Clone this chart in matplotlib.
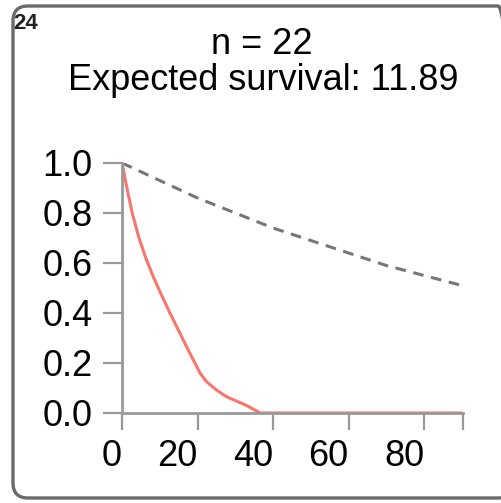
import matplotlib
matplotlib.use("Agg")
import matplotlib.pyplot as plt
from matplotlib.patches import FancyBboxPatch

plt.rcParams['font.family'] = ['Liberation Sans', 'DejaVu Sans']

obs_time = [0, 1.3, 2.7, 4.5, 6.3, 8.3, 10, 12.7, 17.1, 20.7, 22.4, 25, 27.7, 33, 36.6, 60, 90]
obs_surv = [1.0, 0.9, 0.8, 0.7, 0.62, 0.545, 0.487, 0.4, 0.265, 0.159, 0.125, 0.092, 0.065,
            0.03, 0.0, 0.0, 0.0]

# expected survival (dashed reference)
exp_time = [0, 10, 20, 30, 40, 50, 60, 70, 80, 90]
exp_surv = [1.0, 0.93, 0.86, 0.80, 0.74, 0.69, 0.64, 0.59, 0.55, 0.51]

panel_id = "24"
n_patients = 22
expected = 11.89
x_ticks = [0, 20, 40, 60, 80, 90.3]
x_labels = ['0', '20', '40', '60', '80', '']
y_ticks = [0.0, 0.2, 0.4, 0.6, 0.8, 1.0]

fig = plt.figure(figsize=(5.02, 5.03), dpi=100)

# rounded panel border
border = FancyBboxPatch((13/502, 5/503), 500/502, 492/503,
                        boxstyle="round,pad=0,rounding_size=0.03",
                        transform=fig.transFigure, fill=False,
                        edgecolor='#6a6a6a', linewidth=2.4, clip_on=False)
fig.patches.append(border)

fig.text(13/502, 1 - 24/503, panel_id, fontsize=16, fontweight='bold',
         va='center', ha='left', color='#222222')
fig.text(262/502, 1 - 45/503, "n = %d" % n_patients, fontsize=26, ha='center', va='center')
fig.text(263/502, 1 - 80/503, "Expected survival: %.2f" % expected, fontsize=26,
         ha='center', va='center')

ax = fig.add_axes([122/502, 1 - 413/503, (463-122)/502, (413-163)/503])
ax.plot(exp_time, exp_surv, color='#777777', lw=2.2, dashes=(3.5, 2.5))
ax.plot(obs_time, obs_surv, color='#F8766D', lw=2.2, solid_capstyle='butt')

ax.set_xlim(0, 90.3)
ax.set_ylim(0, 1.0)
for s in ['top', 'right']:
    ax.spines[s].set_visible(False)
for s in ['left', 'bottom']:
    ax.spines[s].set_color('#999999')
    ax.spines[s].set_linewidth(2)

ax.set_xticks(x_ticks)
ax.set_xticklabels(x_labels, ha='right')
ax.set_yticks(y_ticks)
ax.set_yticklabels(['%.1f' % v for v in y_ticks])
ax.tick_params(axis='y', direction='out', length=14, width=1.6, color='#999999',
               labelsize=26, pad=7)
ax.tick_params(axis='x', direction='out', length=12, width=1.6, color='#999999',
               labelsize=26, pad=7)

fig.savefig("out.png", dpi=100)
